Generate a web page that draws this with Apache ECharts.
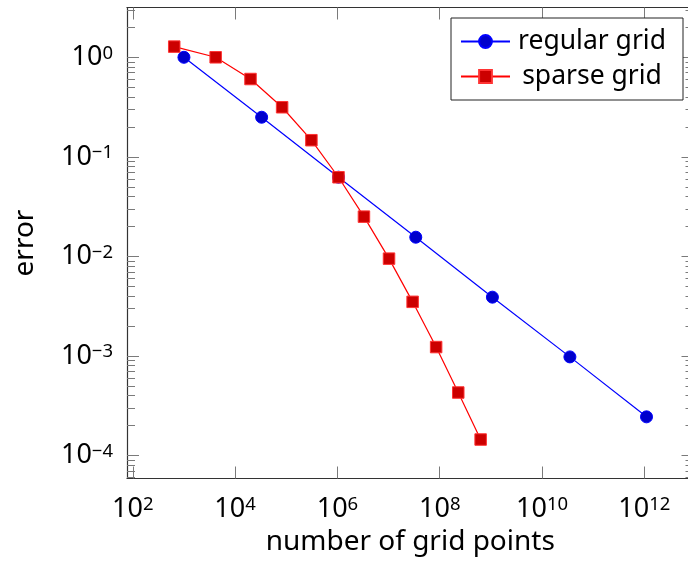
<!DOCTYPE html>
<html><head><meta charset="utf-8">
<script src="https://cdn.jsdelivr.net/npm/echarts@6/dist/echarts.min.js"></script>
<style>html,body{margin:0;padding:0;background:#fff}#c{width:688px;height:563px}</style>
</head><body><div id="c"></div>
<script>
// ---- data ----
const regularX   = [1.0e3, 3.3e4, 1.05e6, 3.4e7, 1.07e9, 3.5e10, 1.1e12];
const regularErr = [1.0, 0.25, 0.0625, 0.0156, 0.0039, 0.00098, 0.000245];
const sparseX    = [646, 4.17e3, 2.0e4, 8.3e4, 3.1e5, 1.05e6, 3.3e6, 1.02e7, 2.95e7, 8.5e7, 2.3e8, 6.3e8];
const sparseErr  = [1.28, 1.0, 0.605, 0.315, 0.147, 0.0624, 0.0251, 0.0095, 0.0035, 0.00123, 0.00043, 0.000145];
const seriesNames = ['regular grid', 'sparse grid'];
const xTickValues = [1e2, 1e4, 1e6, 1e8, 1e10, 1e12];
const yTickValues = [1e-4, 1e-3, 1e-2, 1e-1, 1];
const xLabel = 'number of grid points';
const yLabel = 'error';

// minor ticks 2..9 x 10^k on y
const yMinorTickValues = [];
for (let k = -5; k <= 0; k++) {
  for (let m = 2; m <= 9; m++) yMinorTickValues.push(m * Math.pow(10, k));
}

const X_MIN = Math.pow(10, 1.887), X_MAX = Math.pow(10, 12.96);
const Y_MIN = Math.pow(10, -4.23), Y_MAX = Math.pow(10, 0.50);

const FONT = 'Noto Sans';
const TICK = '#7a7a7a';
const FRAME = '#333';

function powLabel(v) {
  const e = Math.round(Math.log10(v));
  return '{b|10}{s|' + (e < 0 ? '\u2212' + (-e) : e) + '}';
}
const labelRich = {
  b: { fontSize: 27, fontFamily: FONT, color: '#000', lineHeight: 27, padding: [7, 0, 0, 0], verticalAlign: 'bottom' },
  s: { fontSize: 18.5, fontFamily: FONT, color: '#000', lineHeight: 19, verticalAlign: 'top' }
};

const common = { type: 'log', logBase: 10, splitLine: { show: false }, minorTick: { show: false } };

const chart = echarts.init(document.getElementById('c'), null, { renderer: 'canvas' });
chart.setOption({
  backgroundColor: '#fff',
  animation: false,
  grid: { left: 127, top: 7.5, width: 566.5, height: 471, outerBoundsMode: 'none', containLabel: false },
  legend: {
    orient: 'vertical', left: 451, top: 18,
    padding: [10, 14, 10, 9],
    itemWidth: 49, itemHeight: 16, itemGap: 8,
    backgroundColor: '#fff', borderColor: '#222', borderWidth: 1, borderRadius: 0,
    data: seriesNames,
    formatter: name => '{t|' + name + '}',
    textStyle: {
      color: '#000', fontFamily: FONT, fontSize: 26.5,
      rich: { t: { width: 154, align: 'center', fontSize: 26.5, fontFamily: FONT, lineHeight: 30 } }
    }
  },
  xAxis: [
    Object.assign({}, common, {
      position: 'bottom', min: X_MIN, max: X_MAX,
      axisLine: { show: true, lineStyle: { color: FRAME, width: 1.2 } },
      axisTick: { show: true, inside: true, length: 12, customValues: xTickValues, lineStyle: { color: TICK, width: 1 } },
      axisLabel: { show: true, margin: 17, customValues: xTickValues, formatter: powLabel, rich: labelRich },
      name: xLabel, nameLocation: 'middle', nameGap: 50,
      nameTextStyle: { fontSize: 28, fontFamily: FONT, color: '#000' }
    }),
    Object.assign({}, common, {
      position: 'top', min: X_MIN, max: X_MAX,
      axisLine: { show: true, lineStyle: { color: FRAME, width: 1.2 } },
      axisTick: { show: true, inside: true, length: 12, customValues: xTickValues, lineStyle: { color: TICK, width: 1 } },
      axisLabel: { show: false }
    })
  ],
  yAxis: [
    Object.assign({}, common, {
      position: 'left', min: Y_MIN, max: Y_MAX,
      axisLine: { show: true, lineStyle: { color: FRAME, width: 1.2 } },
      axisTick: { show: true, inside: true, length: 12, customValues: yTickValues, lineStyle: { color: TICK, width: 1 } },
      axisLabel: { show: true, margin: 14, customValues: yTickValues, formatter: powLabel, rich: labelRich },
      name: yLabel, nameLocation: 'middle', nameGap: 88, nameRotate: 90,
      nameTextStyle: { fontSize: 28, fontFamily: FONT, color: '#000' }
    }),
    Object.assign({}, common, {
      position: 'left', min: Y_MIN, max: Y_MAX,
      axisLine: { show: false },
      axisTick: { show: true, inside: true, length: 8, customValues: yMinorTickValues, lineStyle: { color: TICK, width: 1 } },
      axisLabel: { show: false }
    }),
    Object.assign({}, common, {
      position: 'right', min: Y_MIN, max: Y_MAX,
      axisLine: { show: true, lineStyle: { color: FRAME, width: 1.2 } },
      axisTick: { show: true, inside: true, length: 12, customValues: yTickValues, lineStyle: { color: TICK, width: 1 } },
      axisLabel: { show: false }
    }),
    Object.assign({}, common, {
      position: 'right', min: Y_MIN, max: Y_MAX,
      axisLine: { show: false },
      axisTick: { show: true, inside: true, length: 8, customValues: yMinorTickValues, lineStyle: { color: TICK, width: 1 } },
      axisLabel: { show: false }
    })
  ],
  series: [
    {
      name: seriesNames[0], type: 'line', xAxisIndex: 0, yAxisIndex: 0,
      data: regularX.map((x, i) => [x, regularErr[i]]),
      symbol: 'circle', symbolSize: 12,
      lineStyle: { color: '#0000ff', width: 1.2 },
      itemStyle: { color: '#0000cc', borderColor: '#0000ff', borderWidth: 1 },
      z: 2
    },
    {
      name: seriesNames[1], type: 'line', xAxisIndex: 0, yAxisIndex: 0,
      data: sparseX.map((x, i) => [x, sparseErr[i]]),
      symbol: 'rect', symbolSize: 11.5,
      lineStyle: { color: '#ff0000', width: 1.2 },
      itemStyle: { color: '#cc0000', borderColor: '#ff3333', borderWidth: 1 },
      z: 3
    }
  ]
});
</script>
</body></html>
